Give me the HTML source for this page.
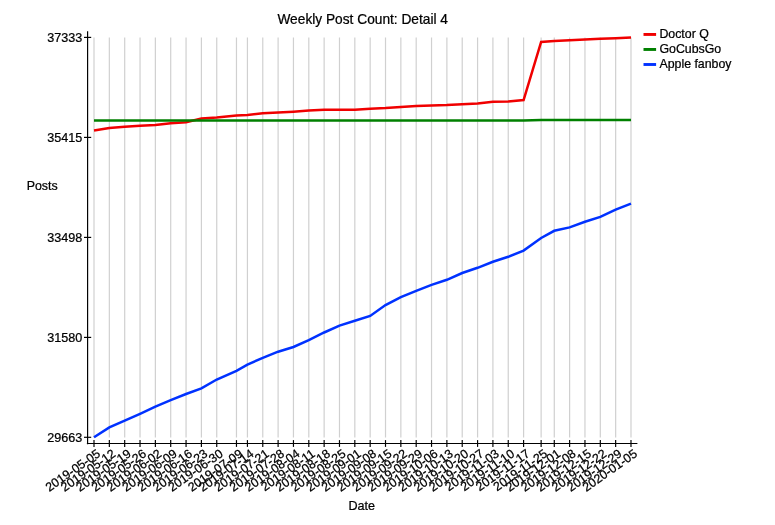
<!DOCTYPE html>
<html><head><meta charset="utf-8"><title>Weekly Post Count: Detail 4</title>
<style>html,body{margin:0;padding:0;background:#fff}svg{display:block}svg{will-change:transform}</style></head>
<body>
<svg width="775" height="525" viewBox="0 0 775 525">
<rect width="775" height="525" fill="#fff"/>
<g stroke="#d0d0d0" stroke-width="1.2">
<line x1="94.00" y1="37.4" x2="94.00" y2="437.6"/>
<line x1="109.34" y1="37.4" x2="109.34" y2="437.6"/>
<line x1="124.69" y1="37.4" x2="124.69" y2="437.6"/>
<line x1="140.03" y1="37.4" x2="140.03" y2="437.6"/>
<line x1="155.37" y1="37.4" x2="155.37" y2="437.6"/>
<line x1="170.71" y1="37.4" x2="170.71" y2="437.6"/>
<line x1="186.06" y1="37.4" x2="186.06" y2="437.6"/>
<line x1="201.40" y1="37.4" x2="201.40" y2="437.6"/>
<line x1="216.74" y1="37.4" x2="216.74" y2="437.6"/>
<line x1="236.47" y1="37.4" x2="236.47" y2="437.6"/>
<line x1="247.43" y1="37.4" x2="247.43" y2="437.6"/>
<line x1="262.77" y1="37.4" x2="262.77" y2="437.6"/>
<line x1="278.11" y1="37.4" x2="278.11" y2="437.6"/>
<line x1="293.45" y1="37.4" x2="293.45" y2="437.6"/>
<line x1="308.80" y1="37.4" x2="308.80" y2="437.6"/>
<line x1="324.14" y1="37.4" x2="324.14" y2="437.6"/>
<line x1="339.48" y1="37.4" x2="339.48" y2="437.6"/>
<line x1="354.82" y1="37.4" x2="354.82" y2="437.6"/>
<line x1="370.17" y1="37.4" x2="370.17" y2="437.6"/>
<line x1="385.51" y1="37.4" x2="385.51" y2="437.6"/>
<line x1="400.85" y1="37.4" x2="400.85" y2="437.6"/>
<line x1="416.19" y1="37.4" x2="416.19" y2="437.6"/>
<line x1="431.54" y1="37.4" x2="431.54" y2="437.6"/>
<line x1="446.88" y1="37.4" x2="446.88" y2="437.6"/>
<line x1="462.22" y1="37.4" x2="462.22" y2="437.6"/>
<line x1="477.57" y1="37.4" x2="477.57" y2="437.6"/>
<line x1="492.91" y1="37.4" x2="492.91" y2="437.6"/>
<line x1="508.25" y1="37.4" x2="508.25" y2="437.6"/>
<line x1="523.59" y1="37.4" x2="523.59" y2="437.6"/>
<line x1="541.13" y1="37.4" x2="541.13" y2="437.6"/>
<line x1="554.28" y1="37.4" x2="554.28" y2="437.6"/>
<line x1="569.62" y1="37.4" x2="569.62" y2="437.6"/>
<line x1="584.96" y1="37.4" x2="584.96" y2="437.6"/>
<line x1="600.31" y1="37.4" x2="600.31" y2="437.6"/>
<line x1="615.65" y1="37.4" x2="615.65" y2="437.6"/>
<line x1="630.99" y1="37.4" x2="630.99" y2="437.6"/>
</g>
<polyline fill="none" stroke="#f00000" stroke-width="2.5" stroke-linejoin="miter" points="94.00,130.45 109.34,128.10 124.69,126.70 140.03,125.80 155.37,125.00 170.71,123.20 186.06,122.20 201.40,118.50 216.74,117.45 236.47,115.60 247.43,115.00 262.77,113.30 278.11,112.50 293.45,111.70 308.80,110.60 324.14,109.70 339.48,109.80 354.82,109.70 370.17,108.70 385.51,108.10 400.85,107.05 416.19,106.10 431.54,105.40 446.88,105.10 462.22,104.20 477.57,103.40 492.91,101.70 508.25,101.50 523.59,100.00 541.13,42.00 554.28,41.00 569.62,40.20 584.96,39.50 600.31,38.85 615.65,38.20 630.99,37.60"/>
<polyline fill="none" stroke="#008000" stroke-width="2.5" stroke-linejoin="miter" points="94.00,120.60 109.34,120.60 124.69,120.60 140.03,120.60 155.37,120.60 170.71,120.60 186.06,120.60 201.40,120.60 216.74,120.60 236.47,120.60 247.43,120.60 262.77,120.60 278.11,120.60 293.45,120.60 308.80,120.60 324.14,120.60 339.48,120.60 354.82,120.60 370.17,120.60 385.51,120.60 400.85,120.60 416.19,120.60 431.54,120.60 446.88,120.60 462.22,120.60 477.57,120.60 492.91,120.60 508.25,120.60 523.59,120.60 541.13,120.00 554.28,120.00 569.62,120.00 584.96,120.00 600.31,120.00 615.65,120.00 630.99,120.00"/>
<polyline fill="none" stroke="#0032ff" stroke-width="2.5" stroke-linejoin="miter" points="94.00,437.30 109.34,427.40 124.69,420.70 140.03,413.80 155.37,406.60 170.71,400.10 186.06,394.00 201.40,388.40 216.74,379.50 236.47,370.80 247.43,364.70 262.77,357.80 278.11,351.70 293.45,347.00 308.80,340.10 324.14,332.50 339.48,325.60 354.82,320.80 370.17,315.90 385.51,305.10 400.85,297.20 416.19,290.80 431.54,284.90 446.88,279.80 462.22,273.00 477.57,267.80 492.91,261.80 508.25,256.80 523.59,250.60 541.13,238.00 554.28,230.80 569.62,227.35 584.96,221.80 600.31,216.90 615.65,209.60 630.99,203.60"/>
<g stroke="#000" stroke-width="1.18" fill="none">
<line x1="87.6" y1="31.2" x2="87.6" y2="444.22"/>
<line x1="86.88" y1="443.5" x2="637.4" y2="443.5"/>
<line x1="84.0" y1="37.4" x2="91.19999999999999" y2="37.4"/>
<line x1="84.0" y1="137.4" x2="91.19999999999999" y2="137.4"/>
<line x1="84.0" y1="237.4" x2="91.19999999999999" y2="237.4"/>
<line x1="84.0" y1="337.4" x2="91.19999999999999" y2="337.4"/>
<line x1="84.0" y1="437.3" x2="91.19999999999999" y2="437.3"/>
<line x1="94.00" y1="440.1" x2="94.00" y2="446.9"/>
<line x1="109.34" y1="440.1" x2="109.34" y2="446.9"/>
<line x1="124.69" y1="440.1" x2="124.69" y2="446.9"/>
<line x1="140.03" y1="440.1" x2="140.03" y2="446.9"/>
<line x1="155.37" y1="440.1" x2="155.37" y2="446.9"/>
<line x1="170.71" y1="440.1" x2="170.71" y2="446.9"/>
<line x1="186.06" y1="440.1" x2="186.06" y2="446.9"/>
<line x1="201.40" y1="440.1" x2="201.40" y2="446.9"/>
<line x1="216.74" y1="440.1" x2="216.74" y2="446.9"/>
<line x1="236.47" y1="440.1" x2="236.47" y2="446.9"/>
<line x1="247.43" y1="440.1" x2="247.43" y2="446.9"/>
<line x1="262.77" y1="440.1" x2="262.77" y2="446.9"/>
<line x1="278.11" y1="440.1" x2="278.11" y2="446.9"/>
<line x1="293.45" y1="440.1" x2="293.45" y2="446.9"/>
<line x1="308.80" y1="440.1" x2="308.80" y2="446.9"/>
<line x1="324.14" y1="440.1" x2="324.14" y2="446.9"/>
<line x1="339.48" y1="440.1" x2="339.48" y2="446.9"/>
<line x1="354.82" y1="440.1" x2="354.82" y2="446.9"/>
<line x1="370.17" y1="440.1" x2="370.17" y2="446.9"/>
<line x1="385.51" y1="440.1" x2="385.51" y2="446.9"/>
<line x1="400.85" y1="440.1" x2="400.85" y2="446.9"/>
<line x1="416.19" y1="440.1" x2="416.19" y2="446.9"/>
<line x1="431.54" y1="440.1" x2="431.54" y2="446.9"/>
<line x1="446.88" y1="440.1" x2="446.88" y2="446.9"/>
<line x1="462.22" y1="440.1" x2="462.22" y2="446.9"/>
<line x1="477.57" y1="440.1" x2="477.57" y2="446.9"/>
<line x1="492.91" y1="440.1" x2="492.91" y2="446.9"/>
<line x1="508.25" y1="440.1" x2="508.25" y2="446.9"/>
<line x1="523.59" y1="440.1" x2="523.59" y2="446.9"/>
<line x1="541.13" y1="440.1" x2="541.13" y2="446.9"/>
<line x1="554.28" y1="440.1" x2="554.28" y2="446.9"/>
<line x1="569.62" y1="440.1" x2="569.62" y2="446.9"/>
<line x1="584.96" y1="440.1" x2="584.96" y2="446.9"/>
<line x1="600.31" y1="440.1" x2="600.31" y2="446.9"/>
<line x1="615.65" y1="440.1" x2="615.65" y2="446.9"/>
<line x1="630.99" y1="440.1" x2="630.99" y2="446.9"/>
</g>
<g font-family="Liberation Sans, sans-serif" fill="#000" stroke="#000" stroke-width="0.24" stroke-linejoin="round">
<text x="362.7" y="24.3" font-size="13.72" text-anchor="middle">Weekly Post Count: Detail 4</text>
<text x="82.3" y="42.40" font-size="12.6" text-anchor="end">37333</text>
<text x="82.3" y="141.90" font-size="12.6" text-anchor="end">35415</text>
<text x="82.3" y="241.90" font-size="12.6" text-anchor="end">33498</text>
<text x="82.3" y="341.90" font-size="12.6" text-anchor="end">31580</text>
<text x="82.3" y="442.15" font-size="12.6" text-anchor="end">29663</text>
<text x="26.7" y="189.6" font-size="12.4">Posts</text>
<text x="361.7" y="510.4" font-size="12.6" text-anchor="middle">Date</text>
<text transform="translate(101.10,455.6) rotate(-35)" font-size="12.4" text-anchor="end">2019-05-05</text>
<text transform="translate(116.44,455.6) rotate(-35)" font-size="12.4" text-anchor="end">2019-05-12</text>
<text transform="translate(131.79,455.6) rotate(-35)" font-size="12.4" text-anchor="end">2019-05-19</text>
<text transform="translate(147.13,455.6) rotate(-35)" font-size="12.4" text-anchor="end">2019-05-26</text>
<text transform="translate(162.47,455.6) rotate(-35)" font-size="12.4" text-anchor="end">2019-06-02</text>
<text transform="translate(177.81,455.6) rotate(-35)" font-size="12.4" text-anchor="end">2019-06-09</text>
<text transform="translate(193.16,455.6) rotate(-35)" font-size="12.4" text-anchor="end">2019-06-16</text>
<text transform="translate(208.50,455.6) rotate(-35)" font-size="12.4" text-anchor="end">2019-06-23</text>
<text transform="translate(223.84,455.6) rotate(-35)" font-size="12.4" text-anchor="end">2019-06-30</text>
<text transform="translate(243.57,455.6) rotate(-35)" font-size="12.4" text-anchor="end">2019-07-09</text>
<text transform="translate(254.53,455.6) rotate(-35)" font-size="12.4" text-anchor="end">2019-07-14</text>
<text transform="translate(269.87,455.6) rotate(-35)" font-size="12.4" text-anchor="end">2019-07-21</text>
<text transform="translate(285.21,455.6) rotate(-35)" font-size="12.4" text-anchor="end">2019-07-28</text>
<text transform="translate(300.55,455.6) rotate(-35)" font-size="12.4" text-anchor="end">2019-08-04</text>
<text transform="translate(315.90,455.6) rotate(-35)" font-size="12.4" text-anchor="end">2019-08-11</text>
<text transform="translate(331.24,455.6) rotate(-35)" font-size="12.4" text-anchor="end">2019-08-18</text>
<text transform="translate(346.58,455.6) rotate(-35)" font-size="12.4" text-anchor="end">2019-08-25</text>
<text transform="translate(361.92,455.6) rotate(-35)" font-size="12.4" text-anchor="end">2019-09-01</text>
<text transform="translate(377.27,455.6) rotate(-35)" font-size="12.4" text-anchor="end">2019-09-08</text>
<text transform="translate(392.61,455.6) rotate(-35)" font-size="12.4" text-anchor="end">2019-09-15</text>
<text transform="translate(407.95,455.6) rotate(-35)" font-size="12.4" text-anchor="end">2019-09-22</text>
<text transform="translate(423.29,455.6) rotate(-35)" font-size="12.4" text-anchor="end">2019-09-29</text>
<text transform="translate(438.64,455.6) rotate(-35)" font-size="12.4" text-anchor="end">2019-10-06</text>
<text transform="translate(453.98,455.6) rotate(-35)" font-size="12.4" text-anchor="end">2019-10-13</text>
<text transform="translate(469.32,455.6) rotate(-35)" font-size="12.4" text-anchor="end">2019-10-20</text>
<text transform="translate(484.67,455.6) rotate(-35)" font-size="12.4" text-anchor="end">2019-10-27</text>
<text transform="translate(500.01,455.6) rotate(-35)" font-size="12.4" text-anchor="end">2019-11-03</text>
<text transform="translate(515.35,455.6) rotate(-35)" font-size="12.4" text-anchor="end">2019-11-10</text>
<text transform="translate(530.69,455.6) rotate(-35)" font-size="12.4" text-anchor="end">2019-11-17</text>
<text transform="translate(548.23,455.6) rotate(-35)" font-size="12.4" text-anchor="end">2019-11-25</text>
<text transform="translate(561.38,455.6) rotate(-35)" font-size="12.4" text-anchor="end">2019-12-01</text>
<text transform="translate(576.72,455.6) rotate(-35)" font-size="12.4" text-anchor="end">2019-12-08</text>
<text transform="translate(592.06,455.6) rotate(-35)" font-size="12.4" text-anchor="end">2019-12-15</text>
<text transform="translate(607.41,455.6) rotate(-35)" font-size="12.4" text-anchor="end">2019-12-22</text>
<text transform="translate(622.75,455.6) rotate(-35)" font-size="12.4" text-anchor="end">2019-12-29</text>
<text transform="translate(638.09,455.6) rotate(-35)" font-size="12.4" text-anchor="end">2020-01-05</text>
<line x1="643.5" y1="34.45" x2="656.1" y2="34.45" stroke="#f00000" stroke-width="2.9"/>
<text x="659.4" y="37.85" font-size="12.36">Doctor Q</text>
<line x1="643.5" y1="49.47" x2="656.1" y2="49.47" stroke="#008000" stroke-width="2.9"/>
<text x="659.4" y="52.90" font-size="12.36">GoCubsGo</text>
<line x1="643.5" y1="64.49" x2="656.1" y2="64.49" stroke="#0032ff" stroke-width="2.9"/>
<text x="659.4" y="67.95" font-size="12.36">Apple fanboy</text>
</g>
</svg>
</body></html>
